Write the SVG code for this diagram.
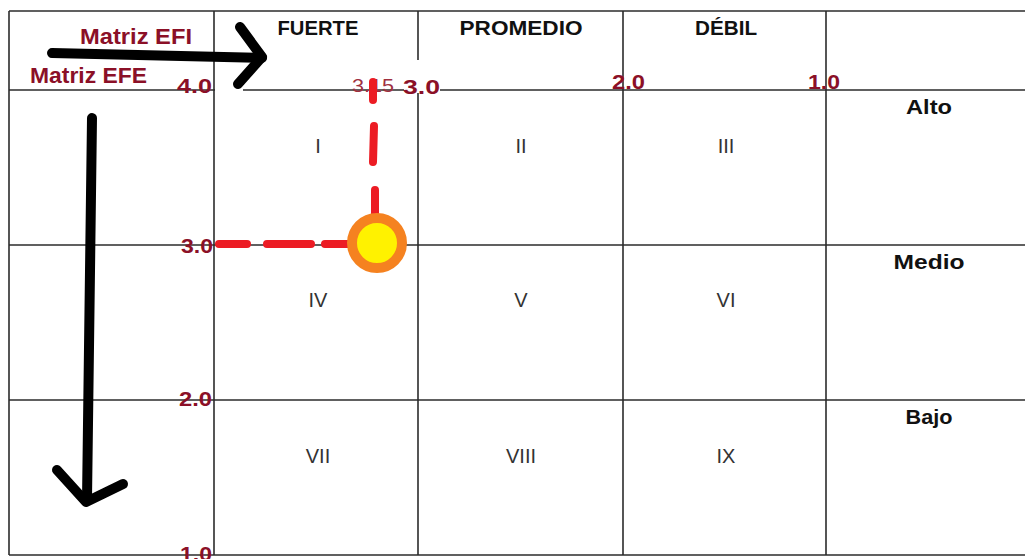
<svg xmlns="http://www.w3.org/2000/svg" width="1025" height="559" viewBox="0 0 1025 559">
<style>
.grid{stroke:#2b2b2b;stroke-width:1.6;fill:none}
.hdr{font-family:"Liberation Sans",Arial,sans-serif;font-weight:bold;font-size:20px;fill:#111;text-anchor:middle}
.rom{font-family:"Liberation Sans",Arial,sans-serif;font-size:20px;fill:#333;text-anchor:middle}
.ax{font-family:"Liberation Sans",Arial,sans-serif;font-weight:bold;font-size:20px;fill:#8b1027}
.ttl{font-family:"Liberation Sans",Arial,sans-serif;font-weight:bold;font-size:22px;fill:#8b1027}
.val{font-family:"Liberation Sans",Arial,sans-serif;font-size:18px;fill:#a0303f}
.pen{stroke:#000;stroke-width:10;stroke-linecap:round;stroke-linejoin:round;fill:none}
.red{stroke:#ec1c24;stroke-width:8;stroke-linecap:round;fill:none}
</style>
<rect width="1025" height="559" fill="#fff"/>
<g id="grid">
<line class="grid" x1="9" y1="11" x2="1025" y2="11"/>
<line class="grid" x1="9" y1="90" x2="1025" y2="90"/>
<line class="grid" x1="9" y1="245" x2="1025" y2="245"/>
<line class="grid" x1="9" y1="400" x2="1025" y2="400"/>
<line class="grid" x1="9" y1="555" x2="1025" y2="555"/>
<line class="grid" x1="9" y1="11" x2="9" y2="555"/>
<line class="grid" x1="214" y1="11" x2="214" y2="555"/>
<line class="grid" x1="418" y1="11" x2="418" y2="555"/>
<line class="grid" x1="623" y1="11" x2="623" y2="555"/>
<line class="grid" x1="826" y1="11" x2="826" y2="555"/>
<rect x="215" y="62" width="28" height="30" fill="#fff"/>
<rect x="404" y="60" width="36" height="33" fill="#fff"/>
</g>
<g id="headers">
<text class="hdr" x="318" y="35" textLength="81" lengthAdjust="spacingAndGlyphs">FUERTE</text>
<text class="hdr" x="521" y="35" textLength="123" lengthAdjust="spacingAndGlyphs">PROMEDIO</text>
<text class="hdr" x="726" y="35" textLength="62" lengthAdjust="spacingAndGlyphs">DÉBIL</text>
<text class="hdr" x="929" y="114" textLength="46" lengthAdjust="spacingAndGlyphs">Alto</text>
<text class="hdr" x="929" y="269" textLength="71" lengthAdjust="spacingAndGlyphs">Medio</text>
<text class="hdr" x="929" y="424" textLength="47" lengthAdjust="spacingAndGlyphs">Bajo</text>
</g>
<g id="cells">
<text class="rom" x="318" y="153">I</text>
<text class="rom" x="521" y="153">II</text>
<text class="rom" x="726" y="153">III</text>
<text class="rom" x="318" y="307">IV</text>
<text class="rom" x="521" y="307">V</text>
<text class="rom" x="726" y="307">VI</text>
<text class="rom" x="318" y="463">VII</text>
<text class="rom" x="521" y="463">VIII</text>
<text class="rom" x="726" y="463">IX</text>
</g>
<g id="axis-labels">
<text class="ttl" x="80" y="44" textLength="112" lengthAdjust="spacingAndGlyphs">Matriz EFI</text>
<text class="ttl" x="30" y="83" textLength="117" lengthAdjust="spacingAndGlyphs">Matriz EFE</text>
<text class="ax" x="177" y="93" textLength="35" lengthAdjust="spacingAndGlyphs">4.0</text>
<text class="ax" x="403" y="94" textLength="37" lengthAdjust="spacingAndGlyphs">3.0</text>
<text class="ax" x="612" y="89" textLength="33" lengthAdjust="spacingAndGlyphs">2.0</text>
<text class="ax" x="808" y="89" textLength="32" lengthAdjust="spacingAndGlyphs">1.0</text>
<text class="ax" x="181" y="253" textLength="32" lengthAdjust="spacingAndGlyphs">3.0</text>
<text class="ax" x="179" y="406" textLength="33" lengthAdjust="spacingAndGlyphs">2.0</text>
<text class="ax" x="180" y="561" textLength="32" lengthAdjust="spacingAndGlyphs">1.0</text>
<text class="val" x="352" y="92" textLength="42" lengthAdjust="spacingAndGlyphs">3.15</text>
</g>
<g id="connectors">
<path class="pen" d="M52,53 L262,58"/>
<path class="pen" d="M240,27 L262,57 L238,84"/>
<path class="pen" d="M92,118 L87,500"/>
<path class="pen" d="M57,470 L86,502 L123,484"/>
<path class="red" d="M373,82 L373,100 M374,126 L373,162 M375,190 L375,222"/>
<path class="red" d="M219,244 L247,244 M267,244 L311,244 M325,244 L352,244"/>
</g>
<g id="point">
<circle cx="377" cy="243" r="25" fill="#fff200" stroke="#f58220" stroke-width="10"/>
</g>
</svg>
